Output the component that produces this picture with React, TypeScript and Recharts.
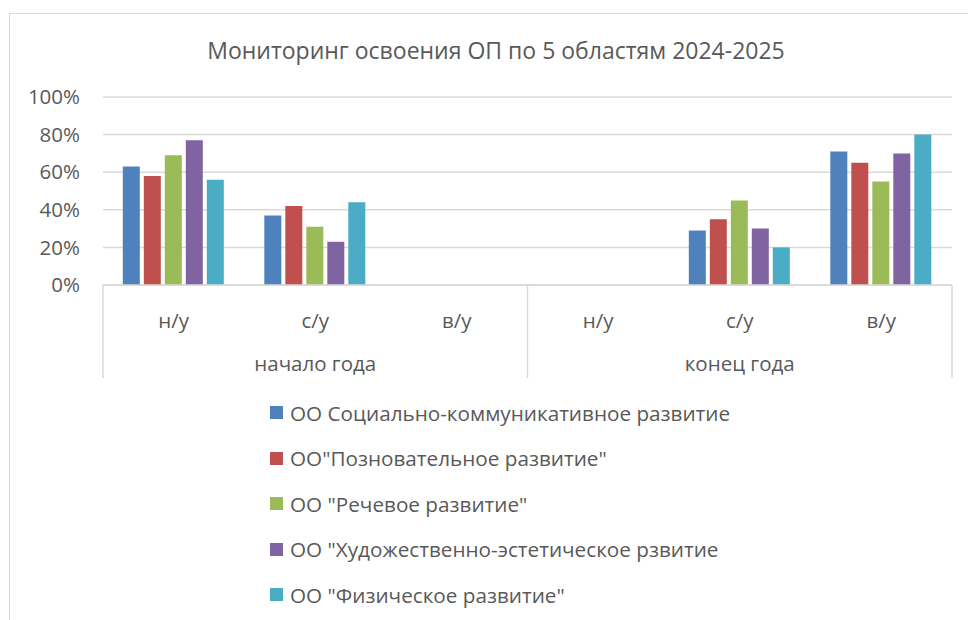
import React from "react";
import { BarChart, Bar, XAxis, YAxis, CartesianGrid, Legend } from "recharts";

const categories = ["н/у", "с/у", "в/у", "н/у", "с/у", "в/у"];
const groups = ["начало года", "начало года", "начало года", "конец года", "конец года", "конец года"];
const seriesNames = [
  "ОО Социально-коммуникативное развитие",
  'ОО"Позновательное развитие"',
  'ОО "Речевое развитие"',
  'ОО "Художественно-эстетическое рзвитие',
  'ОО "Физическое развитие"',
];
const social = [63, 37, 0, 0, 29, 71];
const cognitive = [58, 42, 0, 0, 35, 65];
const speech = [69, 31, 0, 0, 45, 55];
const artistic = [77, 23, 0, 0, 30, 70];
const physical = [56, 44, 0, 0, 20, 80];
const yTicks = [0, 20, 40, 60, 80, 100];
const title = "Мониторинг освоения ОП по 5 областям 2024-2025";

const seriesValues = [social, cognitive, speech, artistic, physical];
const colors = ["#4F81BD", "#C0504D", "#9BBB59", "#8064A2", "#4BACC6"];
const keys = ["s0", "s1", "s2", "s3", "s4"];

const data = categories.map((c, i) => {
  const row: any = { cat: c, group: groups[i] };
  keys.forEach((k, j) => (row[k] = seriesValues[j][i]));
  return row;
});

const W = 968;
const H = 620;
const M = { top: 97, right: 16, left: 0, bottom: 240 };
const YW = 103;
const PLOT_W = W - M.left - M.right - YW;
const BAND = PLOT_W / categories.length;
const FONT = "'Open Sans', sans-serif";
const TEXT = "#595959";
const LINE = "#d9d9d9";

const CatTick = (props: any) => {
  const { x, y, payload } = props;
  return (
    <text x={x} y={y + 35} textAnchor="middle" dominantBaseline="central" fontSize={20.5} fill={TEXT} fontFamily={FONT}>
      {payload.value}
    </text>
  );
};

const GroupTick = (props: any) => {
  const { x, y, payload, index } = props;
  const i = index ?? payload.index;
  const els: any[] = [];
  if (i === 0) {
    els.push(<line key="l" x1={x - BAND / 2} x2={x - BAND / 2} y1={y - 50} y2={y + 43} stroke={LINE} strokeWidth={1.5} />);
  }
  if (i === 2 || i === 5) {
    els.push(<line key="r" x1={x + BAND / 2} x2={x + BAND / 2} y1={y - 50} y2={y + 43} stroke={LINE} strokeWidth={1.5} />);
  }
  if (i === 1 || i === 4) {
    els.push(
      <text key="t" x={x} y={y + 28} textAnchor="middle" dominantBaseline="central" fontSize={20.5} fill={TEXT} fontFamily={FONT}>
        {payload.value}
      </text>
    );
  }
  return <g>{els}</g>;
};

const LegendContent = () => (
  <div style={{ fontFamily: FONT, fontSize: 20.7, color: TEXT }}>
    {seriesNames.map((n, i) => (
      <div key={i} style={{ height: 45.5, display: "flex", alignItems: "center", whiteSpace: "nowrap" }}>
        <span style={{ display: "inline-block", width: 13, height: 13, background: colors[i], marginRight: 7 }} />
        <span>{n}</span>
      </div>
    ))}
  </div>
);

export default function App() {
  return (
    <div style={{ position: "absolute", left: 0, top: 0, width: W, height: H, background: "#fff", overflow: "hidden" }}>
      <div
        style={{
          position: "absolute",
          left: 9,
          top: 13,
          width: W - 9,
          height: H - 13,
          borderLeft: `1.5px solid ${LINE}`,
          borderTop: `1.5px solid ${LINE}`,
          boxSizing: "border-box",
        }}
      />
      <div
        style={{
          position: "absolute",
          left: 0,
          top: 34,
          width: 992,
          textAlign: "center",
          fontFamily: FONT,
          fontSize: 23,
          color: TEXT,
          lineHeight: "32px",
        }}
      >
        {title}
      </div>
      <div style={{ position: "absolute", left: 0, top: 0 }}>
        <BarChart width={W} height={H} data={data} margin={M} barCategoryGap="14%" barGap={4}>
          <CartesianGrid vertical={false} stroke={LINE} strokeWidth={1.5} />
          <XAxis
            xAxisId="cat"
            dataKey="cat"
            height={50}
            interval={0}
            tickLine={false}
            tickSize={0}
            tickMargin={0}
            axisLine={{ stroke: LINE, strokeWidth: 1.5 }}
            tick={<CatTick />}
          />
          <XAxis
            xAxisId="group"
            dataKey="group"
            height={45}
            interval={0}
            tickLine={false}
            tickSize={0}
            tickMargin={0}
            axisLine={false}
            tick={<GroupTick />}
          />
          <YAxis
            width={YW}
            domain={[0, 100]}
            ticks={yTicks}
            tickFormatter={(v: number) => `${v}%`}
            axisLine={false}
            tickLine={false}
            tickSize={0}
            tickMargin={23}
            tick={{ fontSize: 20.5, fill: TEXT, fontFamily: FONT }}
          />
          <Legend
            layout="horizontal"
            verticalAlign="middle"
            align="center"
            content={<LegendContent />}
            wrapperStyle={{ position: "absolute", left: 270, top: 390, width: 620 }}
          />
          {keys.map((k, j) => (
            <Bar key={k} xAxisId="cat" dataKey={k} name={seriesNames[j]} fill={colors[j]} isAnimationActive={false} />
          ))}
        </BarChart>
      </div>
    </div>
  );
}
